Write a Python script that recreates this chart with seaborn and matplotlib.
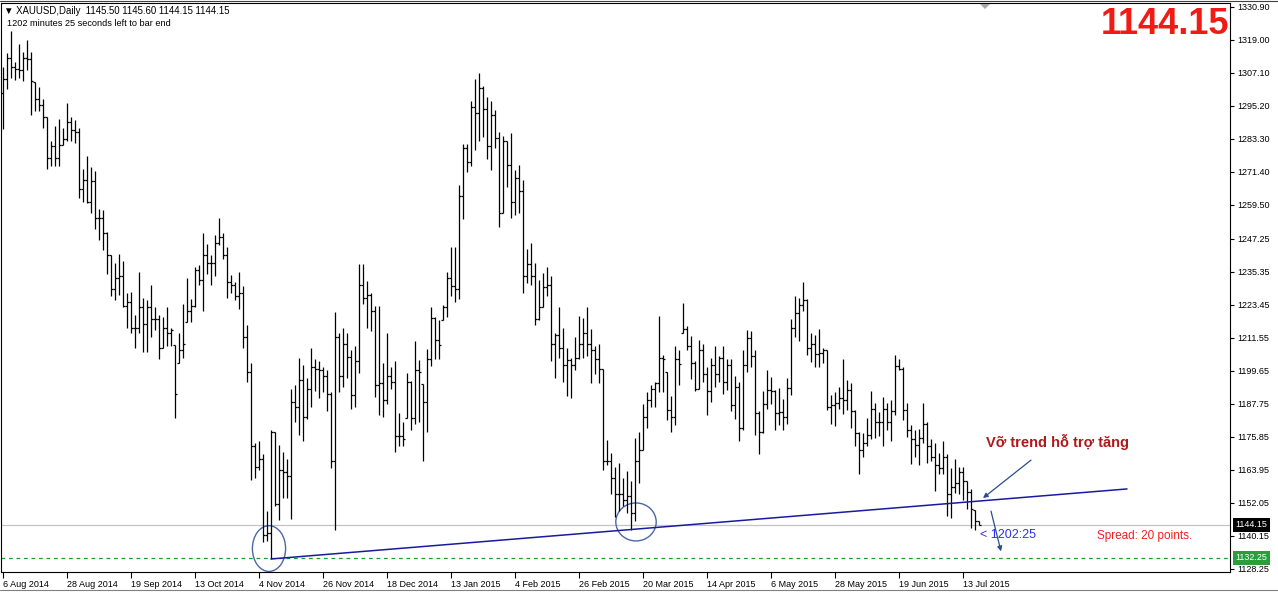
import numpy as np
import pandas as pd
import matplotlib
matplotlib.use("Agg")
import matplotlib.pyplot as plt
import matplotlib.transforms as mtransforms
from matplotlib.patches import Ellipse, Polygon
from matplotlib.lines import Line2D
import seaborn as sns

sns.set_style("white")
plt.rcParams['font.family'] = ['Liberation Sans', 'DejaVu Sans']

# ---------------- data ----------------
holidays = ["2014-12-25", "2015-01-01", "2015-04-03"]
dates = pd.bdate_range("2014-08-06", "2015-07-17", freq="C", holidays=holidays)

opens = [1300.0, 1305.1, 1312.4, 1309.1, 1308.7, 1308.0, 1312.4, 1312.0, 1304.0, 1297.6,
         1295.4, 1291.2, 1276.3, 1280.7, 1276.3, 1281.3, 1283.3, 1289.3, 1286.7, 1286.0,
         1265.3, 1268.6, 1260.6, 1268.2, 1254.9, 1254.9, 1249.3, 1241.3, 1229.2, 1233.3,
         1233.9, 1223.2, 1224.6, 1215.2, 1215.2, 1222.8, 1216.5, 1222.6, 1218.3, 1218.5,
         1207.9, 1215.2, 1213.2, 1208.9, 1202.5, 1207.2, 1217.2, 1221.2, 1223.2, 1235.9,
         1232.3, 1241.5, 1238.6, 1238.6, 1245.9, 1247.9, 1241.3, 1231.6, 1230.6, 1226.6,
         1227.9, 1211.9, 1199.2, 1172.5, 1165.1, 1167.8, 1140.4, 1141.1, 1177.8, 1151.8,
         1163.8, 1163.1, 1161.8, 1188.5, 1186.5, 1196.5, 1183.2, 1193.2, 1201.2, 1200.5,
         1199.9, 1197.9, 1191.2, 1167.1, 1211.9, 1197.9, 1209.2, 1204.8, 1190.8, 1203.2,
         1230.6, 1225.9, 1227.2, 1221.2, 1194.5, 1195.2, 1189.2, 1197.9, 1195.8, 1176.1,
         1176.1, 1182.8, 1195.8, 1182.8, 1199.9, 1194.8, 1188.5, 1204.1, 1218.8, 1210.8,
         1217.9, 1222.8, 1233.0, 1230.3, 1229.2, 1262.9, 1280.0, 1275.1, 1294.7, 1292.7,
         1301.6, 1294.0, 1280.7, 1292.0, 1283.7, 1256.6, 1282.7, 1274.0, 1260.6, 1269.3,
         1264.6, 1233.9, 1238.3, 1233.9, 1218.5, 1222.8, 1229.9, 1230.6, 1209.2, 1212.6,
         1207.9, 1201.9, 1203.6, 1201.9, 1204.5, 1209.2, 1213.2, 1209.2, 1207.2, 1203.9,
         1200.5, 1167.1, 1167.1, 1161.1, 1155.1, 1155.1, 1153.1, 1154.5, 1148.4, 1167.1,
         1171.1, 1183.2, 1189.2, 1193.2, 1195.2, 1204.5, 1199.2, 1185.4, 1183.2, 1203.9,
         1213.2, 1214.8, 1208.5, 1202.5, 1193.2, 1207.2, 1198.5, 1192.5, 1201.9, 1198.5,
         1204.5, 1195.8, 1201.9, 1187.2, 1193.9, 1179.2, 1201.9, 1211.6, 1204.9, 1184.5,
         1177.8, 1187.8, 1192.9, 1192.5, 1184.5, 1184.9, 1183.2, 1193.4, 1215.2, 1220.6,
         1223.6, 1225.2, 1207.9, 1209.2, 1205.9, 1206.3, 1207.2, 1186.8, 1187.2, 1188.1,
         1189.8, 1189.2, 1192.9, 1185.2, 1177.2, 1171.1, 1173.8, 1176.5, 1185.8, 1181.4,
         1181.2, 1185.8, 1181.4, 1185.2, 1201.5, 1200.5, 1185.4, 1178.5, 1175.2, 1173.1,
         1175.6, 1180.5, 1172.5, 1168.5, 1165.8, 1164.5, 1168.5, 1155.1, 1157.8, 1159.1,
         1163.1, 1159.8, 1156.1, 1149.4, 1145.5]

highs = [1309.4, 1314.3, 1322.1, 1311.0, 1317.4, 1314.7, 1319.0, 1314.7, 1304.0, 1302.0,
         1297.6, 1291.2, 1282.7, 1288.0, 1290.4, 1287.3, 1296.3, 1291.3, 1290.0, 1287.3,
         1272.6, 1277.3, 1273.3, 1271.6, 1258.0, 1257.6, 1249.9, 1241.3, 1238.6, 1241.9,
         1239.3, 1227.9, 1228.2, 1219.9, 1235.3, 1225.9, 1225.2, 1230.8, 1222.6, 1219.9,
         1219.2, 1222.6, 1215.2, 1208.9, 1213.2, 1223.9, 1233.0, 1225.5, 1237.2, 1237.9,
         1249.3, 1245.3, 1241.3, 1248.6, 1254.9, 1249.5, 1244.2, 1234.3, 1231.6, 1235.3,
         1230.3, 1216.4, 1202.5, 1173.8, 1174.5, 1169.8, 1149.1, 1178.5, 1177.8, 1173.1,
         1170.5, 1167.8, 1193.2, 1194.5, 1204.5, 1201.9, 1197.2, 1207.9, 1204.1, 1203.2,
         1201.2, 1199.9, 1191.9, 1220.8, 1213.2, 1215.2, 1213.2, 1207.2, 1208.5, 1238.3,
         1238.3, 1232.2, 1227.9, 1223.2, 1223.2, 1202.5, 1213.5, 1201.2, 1203.2, 1184.5,
         1181.2, 1198.8, 1196.1, 1210.5, 1203.6, 1194.8, 1207.5, 1222.8, 1219.2, 1218.0,
         1223.6, 1235.3, 1244.2, 1244.2, 1266.6, 1281.6, 1281.6, 1296.9, 1305.0, 1307.1,
         1302.4, 1298.4, 1296.9, 1293.6, 1286.0, 1284.3, 1282.7, 1285.3, 1272.0, 1274.0,
         1268.4, 1243.7, 1245.7, 1238.6, 1232.6, 1234.9, 1237.3, 1233.9, 1213.5, 1222.8,
         1215.2, 1207.9, 1204.5, 1211.9, 1219.6, 1218.8, 1222.8, 1214.8, 1208.5, 1209.2,
         1200.5, 1174.8, 1170.2, 1164.9, 1166.5, 1160.9, 1163.5, 1159.8, 1175.6, 1177.8,
         1187.8, 1191.9, 1194.5, 1195.8, 1219.6, 1205.5, 1199.2, 1190.5, 1208.5, 1207.2,
         1224.2, 1215.9, 1212.1, 1203.2, 1210.8, 1209.2, 1201.2, 1204.5, 1208.5, 1205.2,
         1208.5, 1204.1, 1203.9, 1197.9, 1195.8, 1207.2, 1214.5, 1213.9, 1207.2, 1185.2,
         1192.5, 1199.9, 1197.5, 1192.9, 1193.4, 1189.4, 1197.0, 1218.5, 1226.8, 1225.9,
         1231.6, 1225.5, 1213.2, 1212.6, 1214.8, 1208.1, 1207.2, 1190.8, 1192.1, 1193.9,
         1204.1, 1196.5, 1195.2, 1185.4, 1177.8, 1177.4, 1182.8, 1192.5, 1188.1, 1184.9,
         1190.2, 1188.1, 1189.2, 1205.5, 1204.1, 1201.2, 1188.1, 1180.1, 1178.2, 1178.8,
         1188.1, 1181.2, 1175.2, 1173.8, 1170.2, 1174.5, 1169.8, 1164.5, 1167.8, 1164.9,
         1164.9, 1159.8, 1157.1, 1149.4, 1145.6]

lows = [1286.9, 1301.4, 1305.4, 1304.7, 1305.4, 1304.3, 1308.0, 1292.0, 1293.4, 1293.4,
        1287.3, 1272.6, 1273.6, 1273.6, 1273.6, 1281.3, 1282.4, 1282.7, 1282.0, 1262.0,
        1260.6, 1260.2, 1256.6, 1251.0, 1246.9, 1243.3, 1234.6, 1226.8, 1225.2, 1227.2,
        1222.8, 1215.2, 1213.2, 1207.9, 1213.2, 1206.5, 1206.5, 1211.9, 1214.5, 1203.9,
        1207.9, 1208.5, 1208.5, 1182.8, 1202.5, 1204.5, 1217.2, 1217.2, 1222.6, 1230.6,
        1221.2, 1234.6, 1230.8, 1233.9, 1245.0, 1239.9, 1225.9, 1227.9, 1225.2, 1221.9,
        1207.9, 1195.8, 1160.5, 1161.1, 1163.8, 1137.8, 1138.4, 1131.8, 1151.1, 1145.8,
        1153.8, 1153.8, 1146.4, 1181.2, 1176.5, 1174.5, 1182.5, 1186.5, 1192.5, 1189.8,
        1191.9, 1185.2, 1164.5, 1142.4, 1191.9, 1193.9, 1197.2, 1185.8, 1186.5, 1198.8,
        1223.9, 1215.2, 1213.9, 1190.2, 1183.8, 1183.2, 1187.8, 1193.2, 1170.5, 1172.5,
        1172.5, 1182.8, 1178.5, 1180.5, 1181.2, 1167.1, 1177.6, 1201.5, 1203.9, 1203.9,
        1217.9, 1219.2, 1226.6, 1224.6, 1225.5, 1254.6, 1271.3, 1273.6, 1279.3, 1282.7,
        1284.0, 1276.0, 1272.0, 1280.0, 1251.7, 1256.6, 1266.0, 1254.9, 1255.9, 1256.6,
        1227.9, 1231.2, 1230.6, 1216.1, 1217.9, 1222.6, 1226.8, 1203.2, 1197.2, 1204.5,
        1195.6, 1190.5, 1189.8, 1199.9, 1203.9, 1204.5, 1205.2, 1195.2, 1198.5, 1195.2,
        1163.8, 1165.8, 1155.1, 1147.1, 1149.1, 1151.1, 1148.4, 1142.4, 1145.4, 1159.1,
        1171.1, 1179.2, 1186.5, 1186.5, 1192.1, 1192.1, 1181.8, 1177.8, 1180.1, 1194.5,
        1213.2, 1207.2, 1196.9, 1192.5, 1193.2, 1195.8, 1183.8, 1188.5, 1193.9, 1195.8,
        1191.2, 1192.9, 1185.2, 1182.5, 1174.5, 1178.5, 1199.2, 1201.2, 1176.5, 1169.8,
        1177.2, 1185.8, 1187.8, 1178.5, 1180.1, 1178.5, 1180.5, 1190.8, 1211.9, 1210.5,
        1221.2, 1205.5, 1202.8, 1201.2, 1201.2, 1202.5, 1185.4, 1180.5, 1179.8, 1185.8,
        1184.1, 1185.4, 1179.2, 1172.5, 1162.5, 1168.5, 1172.5, 1175.2, 1175.6, 1176.1,
        1172.5, 1178.5, 1174.5, 1183.8, 1199.9, 1181.8, 1175.8, 1166.2, 1168.5, 1165.8,
        1173.8, 1166.5, 1167.1, 1156.4, 1162.5, 1162.5, 1147.5, 1146.7, 1155.8, 1155.1,
        1153.1, 1149.8, 1143.1, 1142.2, 1144.15]

closes = [1305.1, 1312.4, 1309.1, 1308.7, 1308.0, 1312.4, 1312.0, 1304.3, 1297.6, 1295.4,
          1291.2, 1276.3, 1280.7, 1276.3, 1281.1, 1283.3, 1289.3, 1286.7, 1286.0, 1265.3,
          1268.6, 1260.6, 1268.2, 1254.9, 1254.9, 1249.3, 1241.3, 1229.2, 1233.3, 1233.9,
          1223.2, 1224.6, 1215.2, 1215.2, 1222.8, 1216.5, 1222.6, 1218.3, 1218.5, 1207.9,
          1215.2, 1213.2, 1214.5, 1191.2, 1207.2, 1209.2, 1221.2, 1223.2, 1235.9, 1232.3,
          1241.5, 1238.6, 1238.6, 1245.9, 1247.9, 1241.3, 1231.6, 1230.6, 1226.6, 1227.9,
          1211.9, 1199.2, 1172.5, 1165.1, 1167.8, 1140.4, 1141.1, 1177.8, 1151.8, 1163.8,
          1163.1, 1161.8, 1188.5, 1186.5, 1196.5, 1183.2, 1193.2, 1201.2, 1200.5, 1199.9,
          1197.9, 1191.2, 1167.1, 1211.9, 1197.9, 1209.2, 1204.8, 1190.8, 1203.2, 1230.6,
          1225.9, 1227.2, 1221.2, 1194.5, 1195.2, 1189.2, 1197.9, 1195.8, 1176.1, 1176.1,
          1175.2, 1195.8, 1182.8, 1199.9, 1199.2, 1188.5, 1204.1, 1218.8, 1210.8, 1209.0,
          1222.8, 1233.0, 1230.3, 1229.2, 1262.9, 1280.0, 1275.1, 1294.7, 1292.7, 1301.6,
          1294.0, 1280.7, 1292.0, 1283.7, 1256.6, 1282.7, 1274.0, 1260.6, 1269.3, 1264.6,
          1233.9, 1238.3, 1233.9, 1218.5, 1222.8, 1229.9, 1230.6, 1209.2, 1212.6, 1207.9,
          1201.9, 1203.6, 1201.9, 1204.5, 1209.2, 1213.2, 1209.2, 1207.2, 1203.9, 1200.5,
          1167.1, 1167.1, 1161.1, 1155.1, 1155.1, 1153.1, 1154.5, 1148.4, 1167.1, 1171.1,
          1183.2, 1189.2, 1193.2, 1195.2, 1204.5, 1203.9, 1185.4, 1183.2, 1203.9, 1202.3,
          1214.8, 1208.5, 1202.5, 1193.2, 1207.2, 1198.5, 1192.5, 1201.9, 1198.5, 1204.5,
          1195.8, 1201.9, 1187.2, 1193.9, 1179.2, 1201.9, 1211.6, 1204.9, 1184.5, 1177.8,
          1187.8, 1192.9, 1192.5, 1184.5, 1184.9, 1183.2, 1193.4, 1215.2, 1220.6, 1223.6,
          1225.2, 1207.9, 1209.2, 1205.9, 1206.3, 1207.2, 1186.8, 1187.2, 1188.1, 1189.8,
          1189.2, 1192.9, 1185.2, 1177.2, 1171.1, 1173.8, 1176.5, 1185.8, 1181.4, 1181.2,
          1185.8, 1181.4, 1185.2, 1201.5, 1200.5, 1185.4, 1178.5, 1175.2, 1173.1, 1175.6,
          1180.5, 1172.5, 1168.5, 1165.8, 1164.5, 1168.5, 1155.1, 1157.8, 1159.1, 1163.1,
          1160.1, 1156.1, 1149.8, 1145.5, 1144.15]

x_tick_labels = ["6 Aug 2014", "28 Aug 2014", "19 Sep 2014", "13 Oct 2014", "4 Nov 2014",
                 "26 Nov 2014", "18 Dec 2014", "13 Jan 2015", "4 Feb 2015", "26 Feb 2015",
                 "20 Mar 2015", "14 Apr 2015", "6 May 2015", "28 May 2015", "19 Jun 2015",
                 "13 Jul 2015"]
y_tick_values = [1330.90, 1319.00, 1307.10, 1295.20, 1283.30, 1271.40, 1259.50, 1247.25,
                 1235.35, 1223.45, 1211.55, 1199.65, 1187.75, 1175.85, 1163.95, 1152.05,
                 1140.15, 1128.25]
y_tick_labels = ["%.2f" % v for v in y_tick_values]

last_price = 1144.15
support_price = 1132.25
header = "\u25bc XAUUSD,Daily  1145.50 1145.60 1144.15 1144.15"
timer_text = "1202 minutes 25 seconds left to bar end"
note_text = "V\u1ee1 trend h\u1ed7 tr\u1ee3 t\u0103ng"
spread_text = "Spread: 20 points."
countdown_text = "< 1202:25"

# trendline anchor (bar index, price)
trend_x = [67, 281]
trend_y = [1131.85, 1157.1]

n = min(len(dates), len(opens), len(highs), len(lows), len(closes))
df = pd.DataFrame({"date": dates[:n], "open": opens[:n], "high": highs[:n],
                   "low": lows[:n], "close": closes[:n]})
df["i"] = np.arange(n)

# ---------------- figure ----------------
W, H = 1278, 594
fig = plt.figure(figsize=(W / 100, H / 100), dpi=100)
fig.patch.set_facecolor("white")
ax = fig.add_axes([1 / W, 22 / H, 1229 / W, 569 / H])
ax.set_facecolor("white")

ax.set_xlim(-0.5, 306.75)
ax.set_ylim(1127.15, 1332.34)

# OHLC bars
ax.vlines(df["i"], df["low"], df["high"], color="black", lw=0.9)
ax.hlines(df["open"], df["i"] - 0.4, df["i"], color="black", lw=0.9)
ax.hlines(df["close"], df["i"], df["i"] + 0.4, color="black", lw=0.9)

# price lines
ax.axhline(last_price, color="#c4c4c4", lw=0.9, zorder=0)
ax.axhline(support_price, color="#1f9a2e", lw=0.9, ls=(0, (3, 3)), zorder=0)

# trendline through seaborn
sns.lineplot(x=trend_x, y=trend_y, ax=ax, color="#1a1aa0", lw=1.1)

# circles
ax.add_patch(Ellipse((66.5, 1135.6), 8.3, 16.5, fill=False, ec="#4a68a8", lw=1.0))
ax.add_patch(Ellipse((158.25, 1145.2), 10.1, 13.7, fill=False, ec="#4a68a8", lw=1.0))

# arrows
arrow_kw = dict(arrowstyle="-|>", color="#2b4c8c", lw=0.9, mutation_scale=7,
                shrinkA=0, shrinkB=0)
ax.annotate("", xy=(245, 1153.8), xytext=(257, 1167.5), arrowprops=arrow_kw)
ax.annotate("", xy=(249.5, 1134.6), xytext=(247, 1149.1), arrowprops=arrow_kw)

# texts in chart
ax.text(245.8, 1173.9, note_text, color="#b0181a", fontsize=10.5, fontweight="bold",
        ha="left", va="center")
ax.text(244.2, 1140.6, countdown_text, color="#3030f0", fontsize=9,
        ha="left", va="center")
ax.text(273.5, 1140.0, spread_text, color="#f02020", fontsize=8.5,
        ha="left", va="center")

# axes styling
for s in ax.spines.values():
    s.set_color("black")
    s.set_linewidth(0.8)

xt = [df.index[df["date"] == pd.to_datetime(l, format="%d %b %Y")][0] for l in x_tick_labels]
ax.set_xticks(xt)
ax.set_xticklabels(x_tick_labels, ha="left", fontsize=6.5)
ax.set_yticks(y_tick_values)
ax.set_yticklabels(y_tick_labels, fontsize=6.5)
ax.yaxis.tick_right()
ax.tick_params(axis="y", which="both", direction="out", length=3, width=0.8, pad=2,
               right=True, left=False, labelright=True, labelleft=False, colors="black")
ax.tick_params(axis="x", direction="out", length=4, width=0.8, pad=1.5,
               bottom=True, colors="black")

# price tags on the right axis
bt = mtransforms.blended_transform_factory(ax.transAxes, ax.transData)
ax.text(1.0045, last_price, "%.2f" % last_price, transform=bt, color="white", fontsize=6.5,
        ha="left", va="center",
        bbox=dict(boxstyle="square,pad=0.25", fc="black", ec="none"))
ax.text(1.0045, support_price, "%.2f" % support_price, transform=bt, color="white",
        fontsize=6.5, ha="left", va="center",
        bbox=dict(boxstyle="square,pad=0.25", fc="#2a9d3c", ec="none"))

# header texts
fig.text(4 / W, 1 - 11 / H, header, fontsize=6.9, ha="left", va="center", color="black")
fig.text(7 / W, 1 - 24 / H, timer_text, fontsize=6.6, ha="left", va="center", color="black")
fig.text(1229 / W, 1 - 25 / H, "%.2f" % last_price, fontsize=26, fontweight="bold",
         color="#f21a14", ha="right", va="center")

# shift marker triangle
fig.patches.append(Polygon([[980 / W, 1 - 4 / H], [990 / W, 1 - 4 / H], [985 / W, 1 - 9 / H]],
                           closed=True, fc="#a8a8a8", ec="none", transform=fig.transFigure))
# window borders
fig.add_artist(Line2D([0, 1], [1 - 0.5 / H, 1 - 0.5 / H], transform=fig.transFigure,
                      color="#404040", lw=0.8))
fig.add_artist(Line2D([0, 1], [1 - 589.5 / H, 1 - 589.5 / H], transform=fig.transFigure,
                      color="#808080", lw=0.8))

fig.savefig("out.png", dpi=100, facecolor="white")
